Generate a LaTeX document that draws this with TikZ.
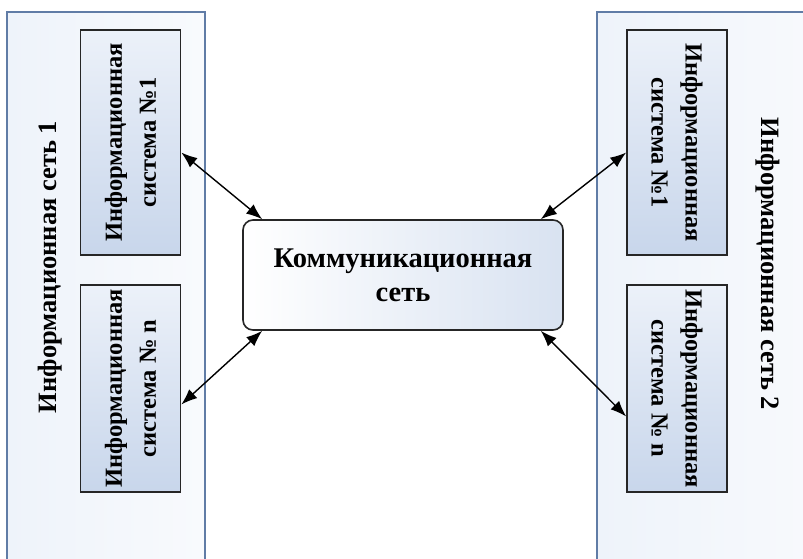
\documentclass[tikz,border=0pt]{standalone}
\usepackage{fontspec}
\setmainfont{Liberation Serif}
\usetikzlibrary{arrows.meta,positioning}

\definecolor{netedge}{RGB}{96,124,166}
\definecolor{netfill}{RGB}{238,243,250}
\definecolor{sysfill}{RGB}{200,214,235}
\definecolor{syslight}{RGB}{236,241,249}

\begin{document}
\begin{tikzpicture}[x=1pt,y=-1pt,
  netbox/.style={rectangle,draw=netedge,line width=1.6pt,left color=netfill,right color=white!60!netfill,inner sep=0pt},
  sysbox/.style={rectangle,draw=black!85,line width=1.6pt,bottom color=sysfill,top color=syslight,inner sep=0pt,minimum height=100,align=center,font=\fontsize{24.5}{34}\selectfont\bfseries},
  commbox/.style={rectangle,rounded corners=10pt,draw=black!85,line width=1.6pt,left color=white,right color=sysfill!70,inner sep=0pt,minimum width=320,minimum height=110,align=center,font=\fontsize{28.5}{34}\selectfont\bfseries},
  nettext/.style={font=\fontsize{26.5}{30}\selectfont\bfseries},
  link/.style={{Latex[length=16pt,width=12pt]}-{Latex[length=16pt,width=12pt]},line width=1.4pt}]
\useasboundingbox (0,0) rectangle (803,558);
\clip (0,0) rectangle (803,558);
\fill[white] (0,0) rectangle (803,558);
\node (net1) at (106,306) [netbox,minimum width=198,minimum height=588] {};
\node (net2) at (714,306) [netbox,minimum width=234,minimum height=588] {};
\node (net1text) at (50,267) [nettext,rotate=90] {Информационная сеть 1};
\node (net2text) at (768,264) [nettext,rotate=-90] {Информационная сеть 2};
\node (sys1a) at (130.5,142.5) [sysbox,rotate=90,minimum width=225] {Информационная\\система №1};
\node (sysna) at (130.5,388.5) [sysbox,rotate=90,minimum width=207] {Информационная\\система № n};
\node (sys1b) at (677,142.5) [sysbox,rotate=-90,minimum width=225] {Информационная\\система №1};
\node (sysnb) at (677,388.5) [sysbox,rotate=-90,minimum width=207] {Информационная\\система № n};
\node (comm) at (403,275) [commbox] {Коммуникационная\\сеть};
\draw[link] ([yshift=-10pt]sys1a.south) -- ([xshift=20pt]comm.north west);
\draw[link] ([xshift=20pt]comm.south west) -- ([yshift=-16pt]sysna.south);
\draw[link] ([yshift=-10pt]sys1b.south) -- ([xshift=-23pt]comm.north east);
\draw[link] ([xshift=-23pt]comm.south east) -- ([yshift=-28pt]sysnb.south);
\end{tikzpicture}
\end{document}
